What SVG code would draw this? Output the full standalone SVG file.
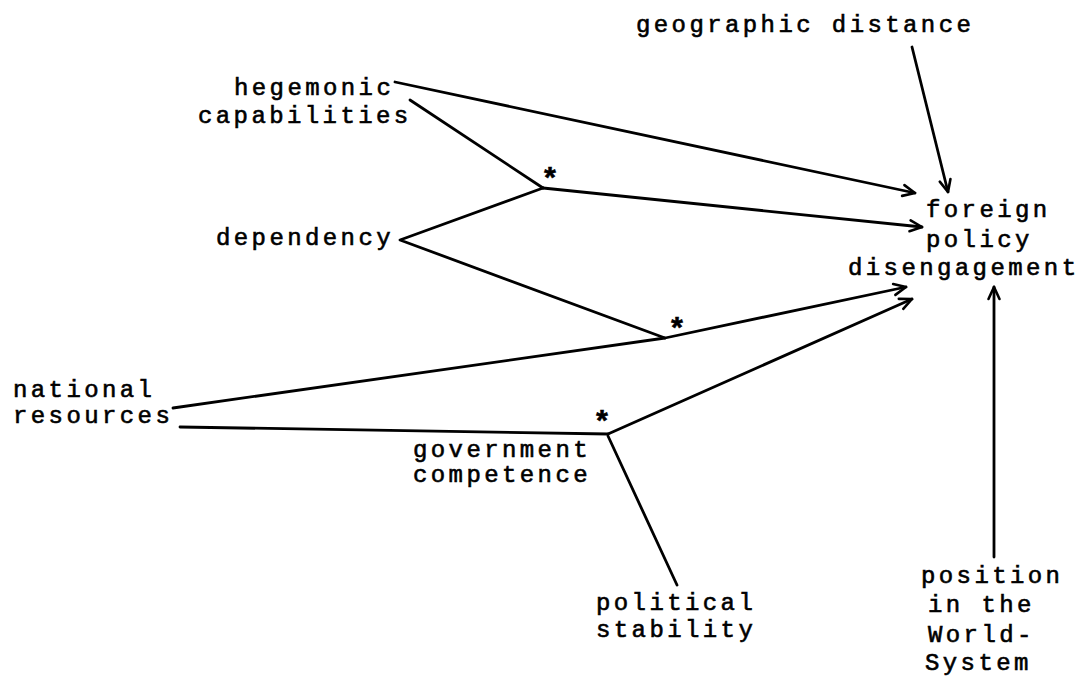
<svg xmlns="http://www.w3.org/2000/svg" width="1083" height="679" viewBox="0 0 1083 679">
<style>
  text { font-family: "Liberation Mono", "Courier New", monospace; font-size: 24px; letter-spacing: 3.4px; fill: #000; stroke: #000; stroke-width: 0.6px; }
  .ln { stroke: #000; stroke-width: 2.8; fill: none; stroke-linecap: round; stroke-linejoin: round; }
  .star { text-anchor: middle; font-size: 30px; letter-spacing: 0; font-weight: bold; }
</style>
<defs>
  <marker id="arr" viewBox="-14 -8 16 16" markerWidth="16" markerHeight="16" refX="0" refY="0" orient="auto" markerUnits="userSpaceOnUse">
    <path d="M-12,-5.5 L0,0 L-12,5.5" fill="none" stroke="#000" stroke-width="2.6" stroke-linecap="round" stroke-linejoin="round"/>
  </marker>
</defs>
<rect width="1083" height="679" fill="#fff"/>

<g id="connectors">
  <path class="ln" d="M395,82 L915,193" marker-end="url(#arr)"/>
  <path class="ln" d="M410,100 L543,188"/>
  <path class="ln" d="M543,188 L400,240 L665,338"/>
  <path class="ln" d="M543,188 L922,227" marker-end="url(#arr)"/>
  <path class="ln" d="M173,408 L665,338 L906,287" marker-end="url(#arr)"/>
  <path class="ln" d="M180,427 L608,434"/>
  <path class="ln" d="M608,434 L912,299" marker-end="url(#arr)"/>
  <path class="ln" d="M608,436 L677,585"/>
  <path class="ln" d="M912,47 L948,192" marker-end="url(#arr)"/>
  <path class="ln" d="M994,557 L994,287" marker-end="url(#arr)"/>
  <text class="star" x="550" y="189">*</text>
  <text class="star" x="677" y="339">*</text>
  <text class="star" x="602" y="432">*</text>
</g>

<g id="geographic-distance"><text x="636" y="32">geographic distance</text></g>
<g id="hegemonic-capabilities"><text x="234" y="95">hegemonic</text><text x="198" y="123">capabilities</text></g>
<g id="dependency"><text x="216" y="245">dependency</text></g>
<g id="national-resources"><text x="13" y="397">national</text><text x="13" y="423">resources</text></g>
<g id="government-competence"><text x="413" y="457">government</text><text x="413" y="482">competence</text></g>
<g id="political-stability"><text x="596" y="610">political</text><text x="596" y="637">stability</text></g>
<g id="foreign-policy-disengagement"><text x="926" y="217">foreign</text><text x="926" y="247">policy</text><text x="848" y="275">disengagement</text></g>
<g id="position-world-system"><text x="921" y="583">position</text><text x="928" y="612">in the</text><text x="928" y="642">World-</text><text x="925" y="670">System</text></g>
</svg>
